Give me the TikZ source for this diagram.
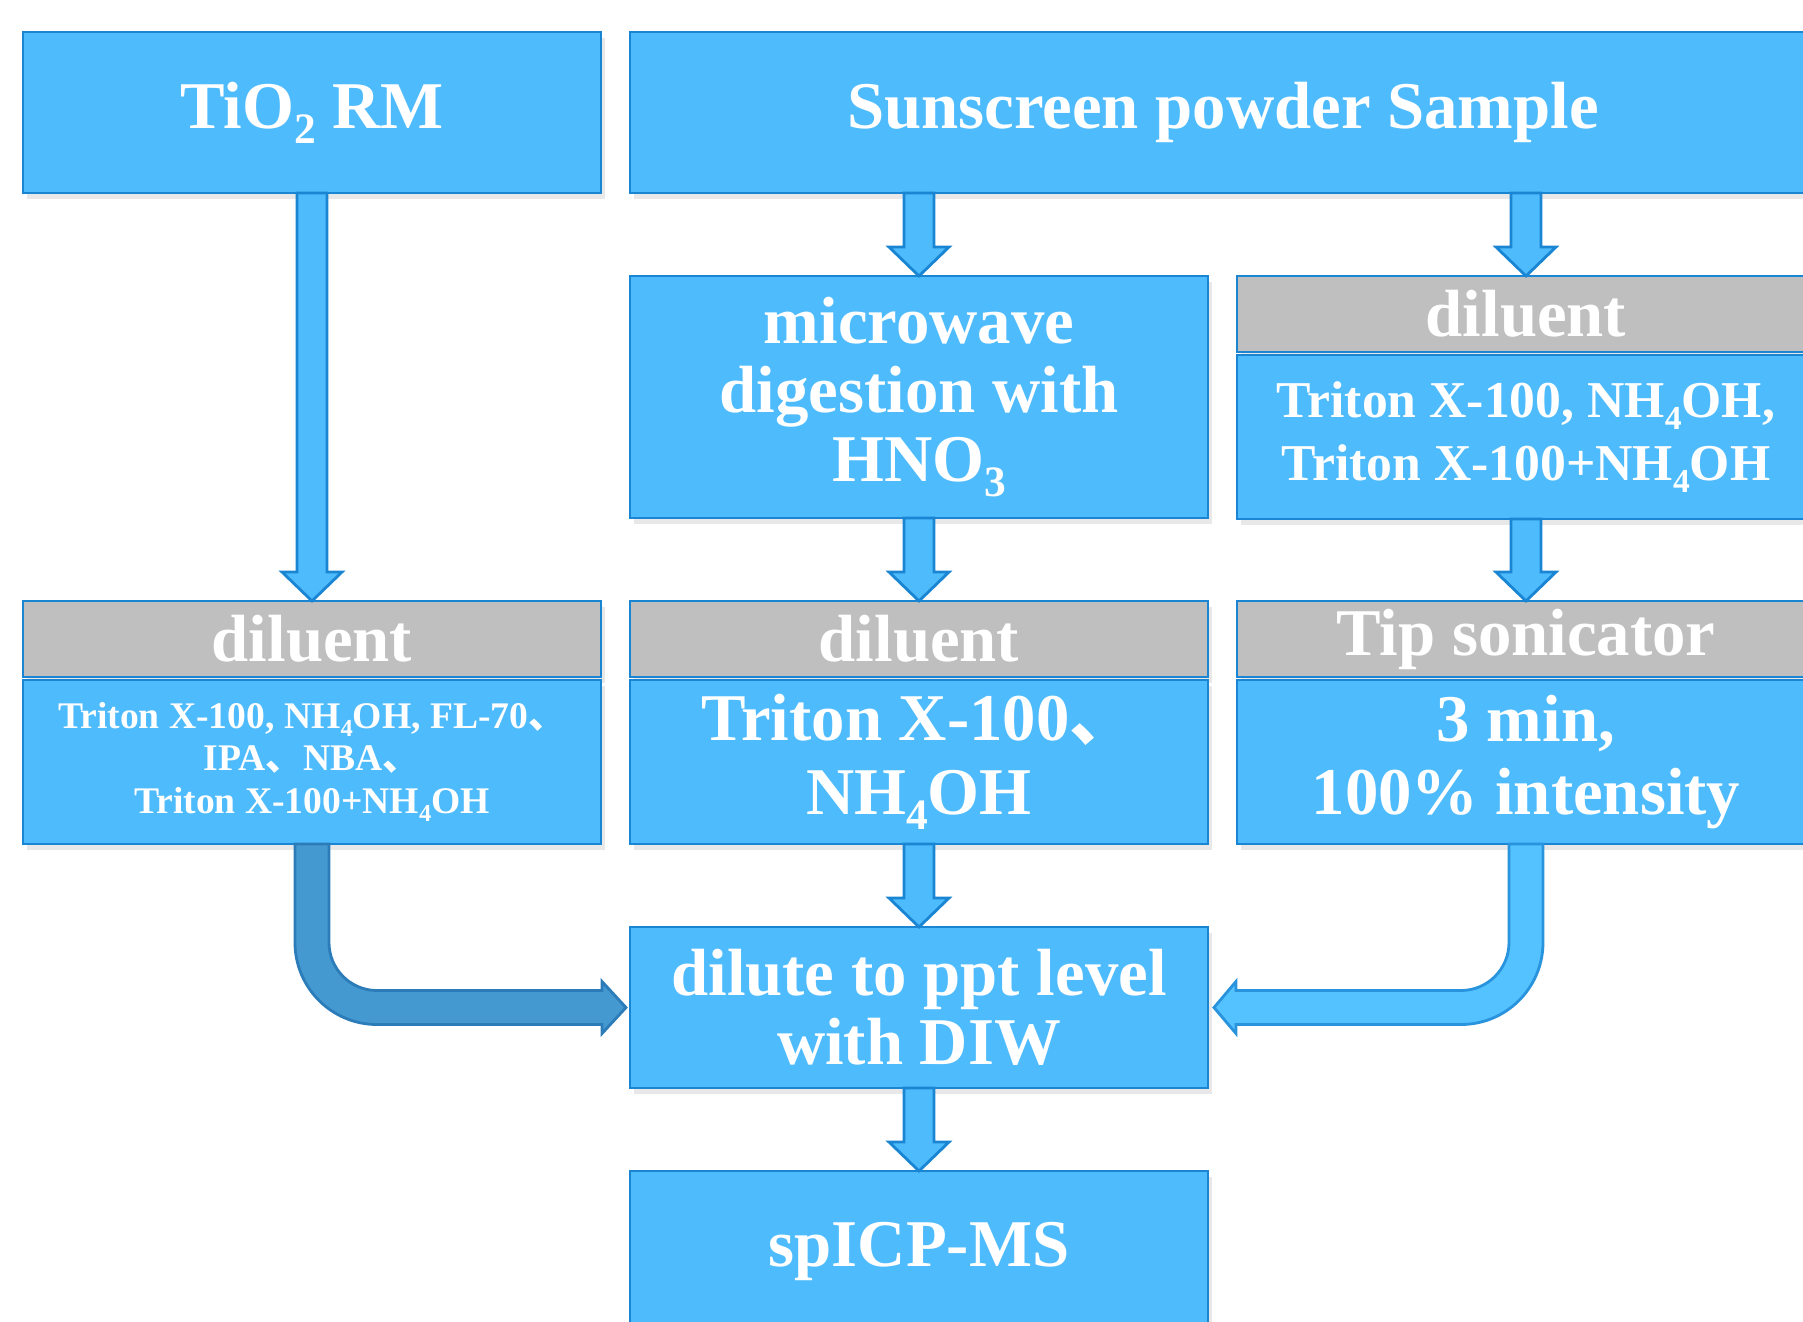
\documentclass[tikz,border=0pt]{standalone}
\usepackage{fontspec}
\setmainfont{Liberation Serif}
\newfontfamily\cjk{Noto Sans CJK SC}
\usetikzlibrary{positioning,calc,shadows}
\definecolor{boxfill}{HTML}{4EBBFD}
\definecolor{boxedge}{HTML}{1A86D3}
\definecolor{headfill}{HTML}{BFBFBF}
\definecolor{leftbend}{HTML}{4499D0}
\definecolor{leftedge}{HTML}{2C7CBA}
\definecolor{rightbend}{HTML}{54C2FF}
\definecolor{rightedge}{HTML}{2994DD}
\newcommand{\chemsub}[1]{\raisebox{-0.5ex}{\scalebox{0.65}{#1}}}

\begin{document}
\begin{tikzpicture}[
  node distance=8.3mm and 2.9mm,
  stage/.style={draw=boxedge,line width=0.8pt,fill=boxfill,text=white,
                font=\fontsize{19}{20}\selectfont\bfseries,align=center,inner sep=0pt,outer sep=0pt,
                minimum width=57.8mm,minimum height=16.1mm,
                drop shadow={opacity=0.18,shadow xshift=0.4mm,shadow yshift=-0.6mm}},
  header/.style={stage,fill=headfill,minimum height=7.6mm},
  body/.style={stage,minimum height=16.4mm},
  flow/.style={draw=boxedge,line width=0.8pt,fill=boxfill},
  bendl/.style={draw=leftedge,line width=0.8pt,fill=leftbend},
  bendr/.style={draw=rightedge,line width=0.8pt,fill=rightbend}
]
  \useasboundingbox (0,0) rectangle (18.03,-13.21);
  \clip (0,0) rectangle (18.03,-13.21);

  \node[stage,anchor=north west] (tio) at (0.23,-0.32) {TiO\chemsub{2} RM};
  \node[stage,right=of tio,minimum width=118.6mm] (ss) {Sunscreen powder Sample};
  \node[stage,below=of ss.south west,anchor=north west,minimum height=24.2mm,
        font=\fontsize{19}{19.6}\selectfont\bfseries] (mw) {microwave\\digestion with\\HNO\chemsub{3}};
  \node[header,right=of mw.north east,anchor=north west] (rdilh) {diluent};
  \node[body,below=0.3mm of rdilh,font=\fontsize{14.7}{18}\selectfont\bfseries] (rdil)
    {Triton X-100, NH\chemsub{4}OH,\\Triton X-100+NH\chemsub{4}OH};
  \node[header,below=of mw] (mdilh) {diluent};
  \node[body,below=0.3mm of mdilh,font=\fontsize{19}{21}\selectfont\bfseries] (mdil)
    {Triton X-100{\cjk 、}\\NH\chemsub{4}OH};
  \node[header,left=of mdilh] (ldilh) {diluent};
  \node[body,below=0.3mm of ldilh,font=\fontsize{10.7}{12.1}\selectfont\bfseries] (ldil)
    {Triton X-100, NH\chemsub{4}OH, FL-70{\cjk 、}\\IPA{\cjk 、}NBA{\cjk 、}\\Triton X-100+NH\chemsub{4}OH};
  \node[header,right=of mdilh] (tiph) {Tip sonicator};
  \node[body,below=0.3mm of tiph,font=\fontsize{19}{21}\selectfont\bfseries] (tip) {3 min,\\100\% intensity};
  \node[stage,below=of mdil,font=\fontsize{19}{19.6}\selectfont\bfseries] (dil) {dilute to ppt level\\with DIW};
  \node[stage,below=of dil] (icp) {spICP-MS};

  \foreach \s/\t in {tio/ldilh,ss/mw,ss/rdilh,mw/mdilh,rdil/tiph,mdil/dil,dil/icp}
    \draw[flow] let \p1=(\s.south), \p2=(\t.north) in
      (\x2-1.5mm,\y1) -- (\x2-1.5mm,\y2+2.9mm) -- (\x2-3mm,\y2+2.9mm) -- (\x2,\y2)
      -- (\x2+3mm,\y2+2.9mm) -- (\x2+1.5mm,\y2+2.9mm) -- (\x2+1.5mm,\y1) -- cycle;

  \draw[bendl] let \p1=(ldil.south), \p2=(dil.west) in
    (\x1-1.7mm,\y1) -- (\x1-1.7mm,\y2+6.5mm) arc[start angle=180,end angle=270,radius=8.2mm]
    -- (\x2-2.8mm,\y2-1.7mm) -- (\x2-2.8mm,\y2-2.6mm) -- (\x2-0.4mm,\y2)
    -- (\x2-2.8mm,\y2+2.6mm) -- (\x2-2.8mm,\y2+1.7mm)
    -- (\x1+6.5mm,\y2+1.7mm) arc[start angle=270,end angle=180,radius=4.8mm]
    -- (\x1+1.7mm,\y1) -- cycle;
  \draw[bendr] let \p1=(tip.south), \p2=(dil.east) in
    (\x1+1.7mm,\y1) -- (\x1+1.7mm,\y2+6.5mm) arc[start angle=0,end angle=-90,radius=8.2mm]
    -- (\x2+2.8mm,\y2-1.7mm) -- (\x2+2.8mm,\y2-2.6mm) -- (\x2+0.6mm,\y2)
    -- (\x2+2.8mm,\y2+2.6mm) -- (\x2+2.8mm,\y2+1.7mm)
    -- (\x1-6.5mm,\y2+1.7mm) arc[start angle=270,end angle=360,radius=4.8mm]
    -- (\x1-1.7mm,\y1) -- cycle;
\end{tikzpicture}
\end{document}
